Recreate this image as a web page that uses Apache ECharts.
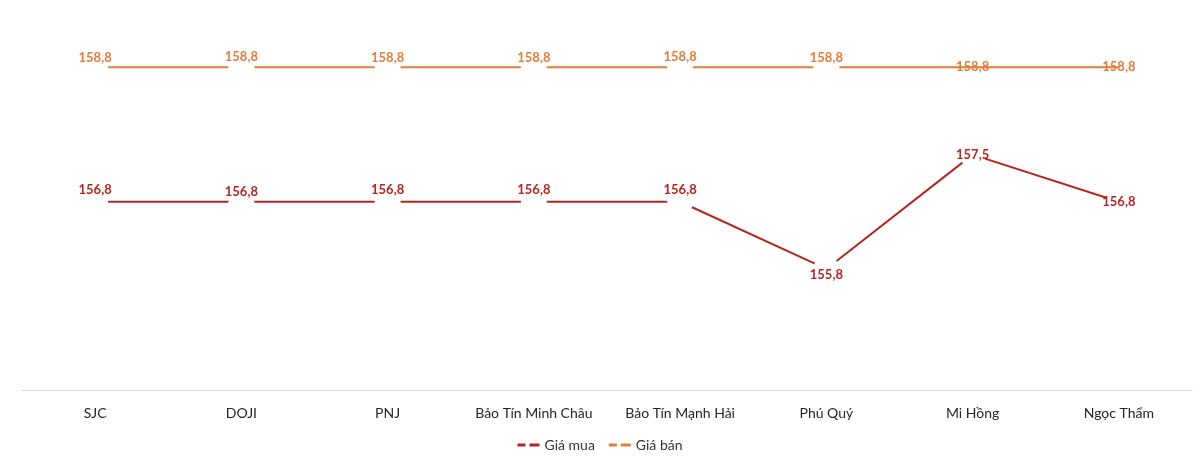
<!DOCTYPE html>
<html>
<head>
<meta charset="utf-8">
<script src="https://cdn.jsdelivr.net/npm/echarts@6/dist/echarts.min.js"></script>
<style>
  html, body { margin: 0; padding: 0; background: #fff; }
  #chart { width: 1200px; height: 460px; }
</style>
</head>
<body>
<div id="chart"></div>
<script>
// danh mục và dữ liệu
var categories = ['SJC', 'DOJI', 'PNJ', 'Bảo Tín Minh Châu', 'Bảo Tín Mạnh Hải', 'Phú Quý', 'Mi Hồng', 'Ngọc Thẩm'];
var giaMua = [156.8, 156.8, 156.8, 156.8, 156.8, 155.8, 157.5, 156.8];
var giaBan = [158.8, 158.8, 158.8, 158.8, 158.8, 158.8, 158.8, 158.8];
// vị trí nhãn (lệch theo trục y)
var muaLabelDy = [-12, -10, -12, -12, -12, 6, 0, 0];
var banLabelDy = [-9, -10, -9, -9, -10, -9, 0, 0];
var banGap = [true, true, true, true, true, true, false, false];

var red = '#b5261e';
var orange = '#e27d3a';
var font = 'Lato, "Open Sans", sans-serif';

function fmt(p) {
    return String(p.value).replace('.', ',');
}

function buildData(values, dys, gaps, color) {
    return values.map(function (v, i) {
        var hasGap = gaps ? gaps[i] : true;
        return {
            value: v,
            symbol: 'circle',
            symbolSize: hasGap ? 26 : 1,
            itemStyle: { color: hasGap ? '#fff' : color, borderWidth: 0 },
            label: { offset: [0, dys[i]] }
        };
    });
}

var myChart = echarts.init(document.getElementById('chart'));

var option = {
    animation: false,
    grid: { left: 22, right: 8, top: 0, bottom: 70 },
    legend: {
        bottom: 3,
        left: 'center',
        itemWidth: 22,
        itemHeight: 3,
        itemGap: 14,
        textStyle: { fontFamily: font, fontSize: 14, color: '#333' },
        data: [
            { name: 'Giá mua', icon: 'path://M0,0H8V3H0ZM12,0H22V3H12Z', itemStyle: { color: red } },
            { name: 'Giá bán', icon: 'path://M0,0H8V3H0ZM12,0H22V3H12Z', itemStyle: { color: orange } }
        ]
    },
    xAxis: {
        type: 'category',
        data: categories,
        boundaryGap: true,
        axisLine: { lineStyle: { color: '#d9d9d9', width: 1 } },
        axisTick: { show: false },
        axisLabel: { interval: 0, fontFamily: font, fontSize: 14, color: '#262626', margin: 16 }
    },
    yAxis: {
        type: 'value',
        min: 154,
        max: 159.8,
        show: false
    },
    series: [
        {
            name: 'Giá mua',
            type: 'line',
            color: red,
            lineStyle: { color: red, width: 2 },
            showAllSymbol: true,
            data: buildData(giaMua, muaLabelDy, null, red),
            label: {
                show: true,
                position: 'inside',
                formatter: fmt,
                color: red,
                fontFamily: font,
                fontWeight: 'bold',
                fontSize: 13
            }
        },
        {
            name: 'Giá bán',
            type: 'line',
            color: orange,
            lineStyle: { color: orange, width: 2 },
            showAllSymbol: true,
            data: buildData(giaBan, banLabelDy, banGap, orange),
            label: {
                show: true,
                position: 'inside',
                formatter: fmt,
                color: orange,
                fontFamily: font,
                fontWeight: 'bold',
                fontSize: 13
            }
        }
    ]
};

myChart.setOption(option);
</script>
</body>
</html>
